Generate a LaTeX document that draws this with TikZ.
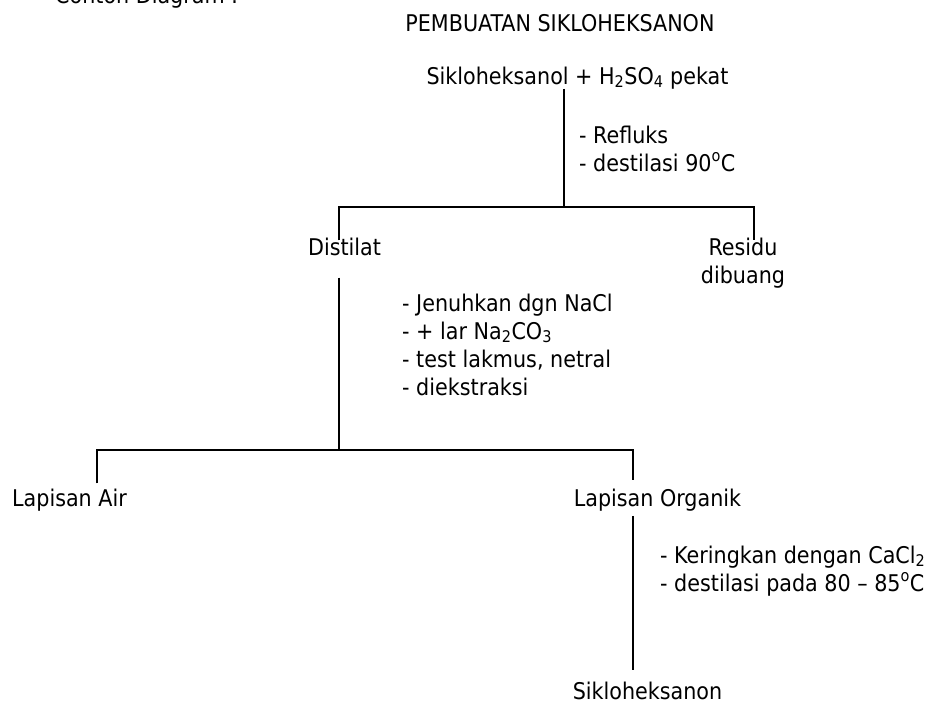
\documentclass[tikz,border=0pt]{standalone}
\usepackage{fontspec}
\setmainfont{DejaVu Sans Condensed}
\usetikzlibrary{positioning,calc}

\begin{document}
\begin{tikzpicture}[
        x=1pt, y=-1pt,
        txt/.style={inner sep=0pt, anchor=base, font=\fontsize{23}{28}\selectfont},
        steps/.style={txt, anchor=base west, align=left},
        line/.style={line width=1.8pt}
    ]
        \useasboundingbox (0,0) rectangle (931,702);

        \node[txt, anchor=base west] (head) at (55,3) {Contoh Diagram :};
        \node[txt] (title) at (560,31) {PEMBUATAN SIKLOHEKSANON};

        \node[txt] (start) at (577.5,84) {Sikloheksanol + H\textsubscript{2}SO\textsubscript{4} pekat};
        % multi-line nodes sit on their last line
        \node[steps] (step1) at (579,171) {- Refluks\\- destilasi 90\textsuperscript{o}C};
        \node[txt] (dist) at (344.5,255) {Distilat};
        \node[txt, align=center] (res) at (743,283) {Residu\\dibuang};
        \node[steps] (step2) at (402,395) {- Jenuhkan dgn NaCl\\- + lar Na\textsubscript{2}CO\textsubscript{3}\\- test lakmus, netral\\- diekstraksi};
        \node[txt] (air) at (69.5,506) {Lapisan Air};
        \node[txt] (org) at (657.5,506) {Lapisan Organik};
        \node[steps] (step3) at (660,591) {- Keringkan dengan CaCl\textsubscript{2}\\- destilasi pada 80 – 85\textsuperscript{o}C};
        \node[txt] (sik) at (647.5,699) {Sikloheksanon};

        \coordinate (j1) at (564,207);
        \coordinate (j2) at (339,450);

        \draw[line] (start.south -| j1) -- (j1);
        \draw[line] ($(dist.north)+(-5.5,3)$) |- (j1) -| ($(res.north)+(11,3)$);
        \draw[line] ($(dist.south)+(-5.5,22)$) -- (j2);
        \draw[line] ($(air.north)+(27.5,-5)$) |- (j2) -| ($(org.north)+(-24.5,-8)$);
        \draw[line] ($(org.south)+(-24.5,5)$) -- ($(sik.north)+(-14.5,-11)$);
    \end{tikzpicture}
\end{document}
